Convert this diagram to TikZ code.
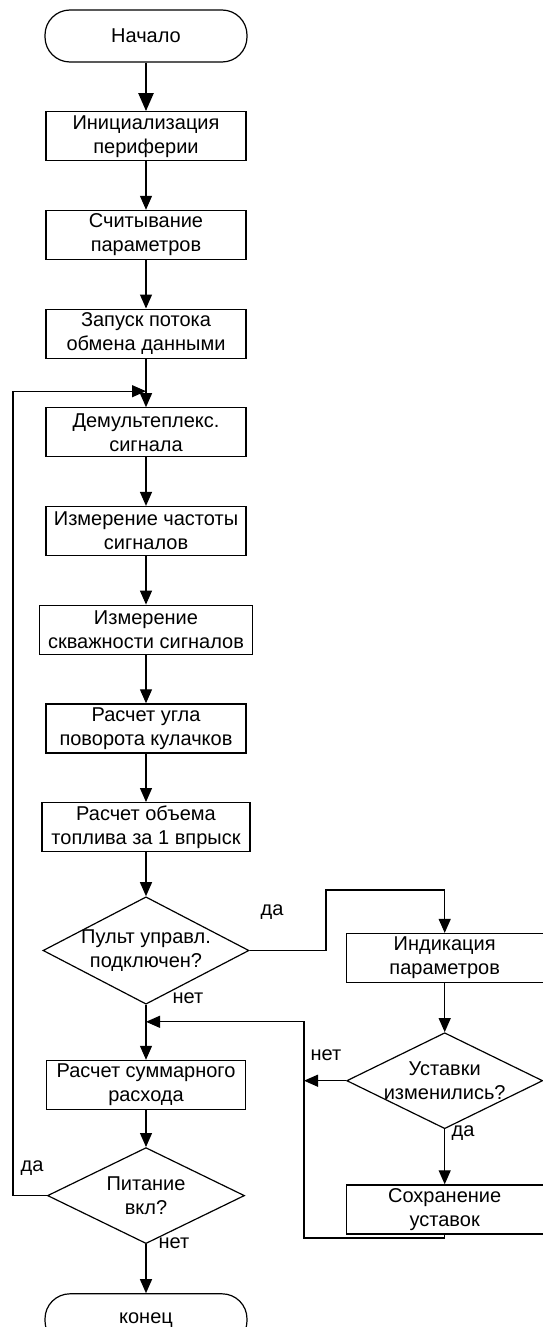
\documentclass[tikz,border=0pt]{standalone}
\usepackage{fontspec}
\setmainfont{Liberation Sans}
\usetikzlibrary{arrows.meta,positioning,shapes}
\tikzset{
    %Define standard arrow tip
    >={Triangle[length=7pt,width=6pt]},
    %Define style for boxes
    blok/.style={
           rectangle,
           draw=black, line width=0.6pt,
           minimum width=100pt,
           minimum height=24.5pt,
           inner sep=1pt,
           align=center,
           font=\fontsize{10}{12}\selectfont},
    term/.style={
           blok,
           rounded corners=12.5pt,
           minimum width=101pt,
           minimum height=26pt},
    usl/.style={
           diamond,
           draw=black, line width=0.6pt,
           inner sep=-8pt,
           align=center,
           font=\fontsize{10}{12}\selectfont},
    % Define label style
    metka/.style={
           font=\fontsize{10}{12}\selectfont,
           inner sep=0pt}
}
\begin{document}
\begin{tikzpicture}[x=0.5pt,y=-0.5pt,->,line width=0.6pt,node distance=24.25pt]
\useasboundingbox (0,0) rectangle (542,1327);
\node[term] (nach) at (146,36) {Начало};
\node[blok, below=of nach] (b1) {Инициализация\\периферии};
\node[blok, below=of b1] (b2) {Считывание\\параметров};
\node[blok, below=of b2] (b3) {Запуск потока\\обмена данными};
\node[blok, below=of b3] (b4) {Демультеплекс.\\сигнала};
\node[blok, below=of b4] (b5) {Измерение частоты\\сигналов};
\node[blok, minimum width=106.5pt, below=of b5] (b6) {Измерение\\скважности сигналов};
\node[blok, below=of b6] (b7) {Расчет угла\\поворота кулачков};
\node[blok, minimum width=104pt, below=of b7] (b8) {Расчет объема\\топлива за 1 впрыск};
\node[usl, minimum width=103pt, minimum height=53.5pt, below=22pt of b8] (d1) {Пульт управл.\\подключен?};
\node[blok, minimum width=99.5pt, below=27.5pt of d1] (b9) {Расчет суммарного\\расхода};
\node[usl, minimum width=98.5pt, minimum height=48pt, below=18.5pt of b9] (d3) {Питание\\вкл?};
\node[term, below=24.5pt of d3] (konec) {конец};
% right column
\node[blok, minimum width=98.5pt, right=48pt of d1, yshift=-3.75pt] (b10) {Индикация\\параметров};
\node[usl, minimum width=98pt, minimum height=48pt, below=24.5pt of b10] (d2) {Уставки\\изменились?};
\node[blok, minimum width=98.5pt, below=27.5pt of d2] (b11) {Сохранение\\уставок};
% bends
\coordinate (j1) at ([yshift=8pt]b4.north);
\coordinate (j2) at ([yshift=19pt]b9.north);
\coordinate (k1) at (326,890);
\coordinate (k2) at (304,1238);
\draw[line width=1.2pt, -{Triangle[length=9pt,width=7.5pt]}] (nach) -- (b1);
\path (b1) edge (b2) (b2) edge (b3) (b3) edge (b4) (b4) edge (b5)
	(b5) edge (b6) (b6) edge (b7) (b7) edge (b8) (b8) edge (d1)
	(d1) edge (b9) (b9) edge (d3) (d3) edge (konec)
	(b10) edge (d2) (d2) edge (b11);
\draw (d3.west) -- ++(-34,0) |- (j1);
\draw (d1.east) -| (k1) -| (b10.north);
\draw (d2.west) -- (d2.west -| k2);
\draw (b11.south) |- (k2) |- (j2);
% labels
\node[metka] (l1) at (272,912) {да};
\node[metka] (l2) at (188,998) {нет};
\node[metka] (l3) at (326,1055) {нет};
\node[metka] (l4) at (463,1133) {да};
\node[metka] (l5) at (32,1168) {да};
\node[metka] (l6) at (174,1243) {нет};
\end{tikzpicture}
\end{document}
